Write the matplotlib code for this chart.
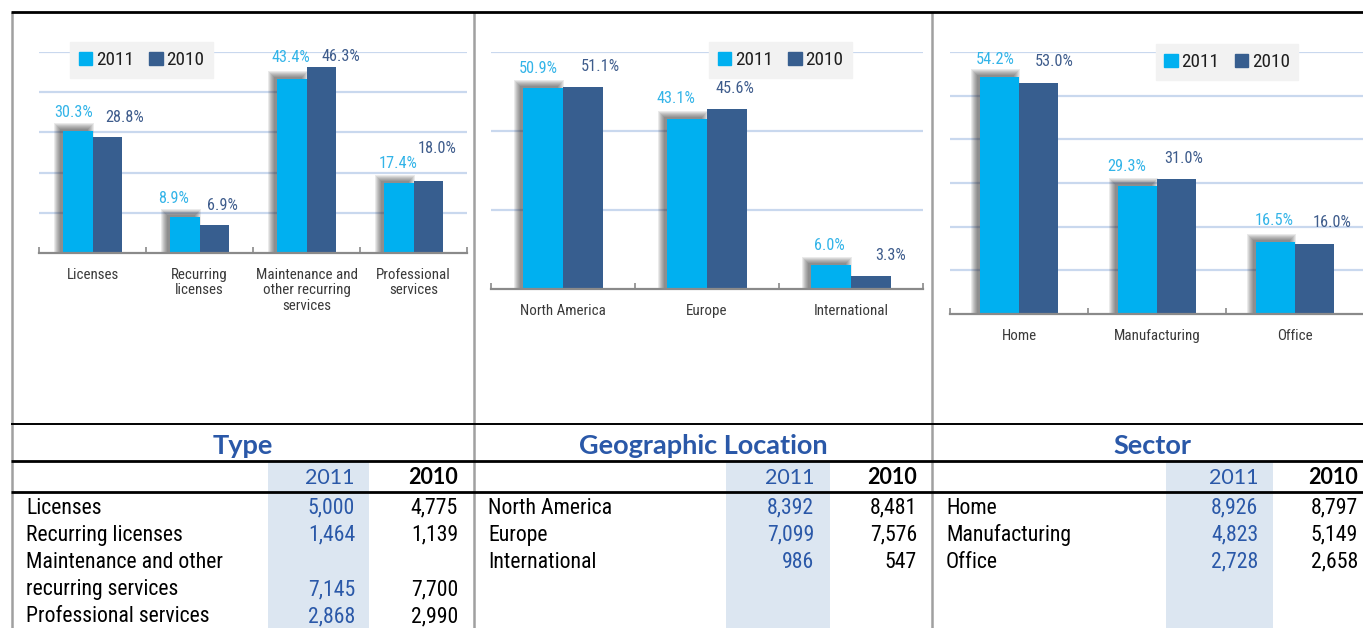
import matplotlib
matplotlib.use("Agg")
import matplotlib.pyplot as plt
from matplotlib import font_manager
from matplotlib.patches import Rectangle, Patch

# ---------------- data ----------------
years = ["2011", "2010"]

type_title = "Type"
type_cats = ["Licenses", "Recurring\nlicenses", "Maintenance and\nother recurring\nservices", "Professional\nservices"]
type_pct_2011 = [30.3, 8.9, 43.4, 17.4]
type_pct_2010 = [28.8, 6.9, 46.3, 18.0]
type_rows = ["Licenses", "Recurring licenses", "Maintenance and other\nrecurring services", "Professional services"]
type_val_2011 = [5000, 1464, 7145, 2868]
type_val_2010 = [4775, 1139, 7700, 2990]

geo_title = "Geographic Location"
geo_cats = ["North America", "Europe", "International"]
geo_pct_2011 = [50.9, 43.1, 6.0]
geo_pct_2010 = [51.1, 45.6, 3.3]
geo_rows = ["North America", "Europe", "International"]
geo_val_2011 = [8392, 7099, 986]
geo_val_2010 = [8481, 7576, 547]

sec_title = "Sector"
sec_cats = ["Home", "Manufacturing", "Office"]
sec_pct_2011 = [54.2, 29.3, 16.5]
sec_pct_2010 = [53.0, 31.0, 16.0]
sec_rows = ["Home", "Manufacturing", "Office"]
sec_val_2011 = [8926, 4823, 2728]
sec_val_2010 = [8797, 5149, 2658]

# ---------------- style ----------------
W, H = 1363, 628
C11 = "#00B0F0"
C10 = "#375E8F"
L11 = "#33B4E8"
L10 = "#3E5C8C"
GRID = "#C9D8EE"
TBLUE = "#2A58A8"
SHADE = "#DCE6F1"

names = {f.name for f in font_manager.fontManager.ttflist}
if "Liberation Sans Narrow" in names:
    NARROW, NS = "Liberation Sans Narrow", 1.0
elif "Roboto Condensed" in names:
    NARROW, NS = "Roboto Condensed", 0.95
else:
    NARROW, NS = "Liberation Sans", 0.85
BOLDF = "Lato" if "Lato" in names else "DejaVu Sans"

fig = plt.figure(figsize=(W / 100, H / 100), dpi=100)
fig.patch.set_facecolor("white")

over = fig.add_axes([0, 0, 1, 1], zorder=0)
over.set_xlim(0, W)
over.set_ylim(H, 0)
over.axis("off")


def add_ax(left, right, top, bottom):
    return fig.add_axes([left / W, 1 - bottom / H, (right - left) / W, (bottom - top) / H], zorder=2)


def chart(ax, cats, p11, p10, ymax, step, offs11, offs10, legbox):
    n = len(cats)
    bw = 0.28
    x = list(range(n))
    ax.set_xlim(-0.5, n - 0.5)
    ax.set_ylim(0, ymax)
    ax.patch.set_alpha(0)
    for s in ["left", "right", "top"]:
        ax.spines[s].set_visible(False)
    ax.spines["bottom"].set_color("#8A8A8A")
    ax.spines["bottom"].set_linewidth(1.6)
    ax.spines["bottom"].set_zorder(4)
    ax.set_yticks([])
    ax.set_xticks([i - 0.5 for i in range(n + 1)])
    ax.tick_params(axis="x", direction="in", length=4, width=1.2, color="#8A8A8A", labelbottom=False)
    for g in range(step, ymax + 1, step):
        ax.axhline(g, color=GRID, lw=1.6, zorder=0.5)
    # px -> data scale
    bb = ax.get_position()
    pxw = bb.width * W
    pxh = bb.height * H
    dxp = n / pxw
    dyp = ymax / pxh
    xs11 = [i - bw / 2 for i in x]
    xs10 = [i + bw / 2 for i in x]
    # soft shadow for 2011 bars (shifted up-left, blurred)
    for i, v in enumerate(p11):
        for k in range(0, 7):
            e = k * 1.0 - 1
            x0 = xs11[i] - bw / 2 - 4 * dxp - e * dxp
            ax.add_patch(Rectangle((x0, 0), bw + 2 * e * dxp,
                                   v + 3 * dyp + e * dyp, color="#1A1A1A", alpha=0.09, lw=0, zorder=1))
    ax.bar(xs11, p11, bw, color=C11, zorder=2)
    ax.bar(xs10, p10, bw, color=C10, zorder=3)
    for i in range(n):
        ax.annotate(f"{p11[i]:.1f}%", (xs11[i], p11[i]), xytext=(offs11[i][0] * 0.72, offs11[i][1] * 0.72),
                    textcoords="offset points", ha="center", va="center", color=L11,
                    fontsize=12.3 * NS, family=NARROW, zorder=5)
        ax.annotate(f"{p10[i]:.1f}%", (xs10[i], p10[i]), xytext=(offs10[i][0] * 0.72, offs10[i][1] * 0.72),
                    textcoords="offset points", ha="center", va="center", color=L10,
                    fontsize=12.3 * NS, family=NARROW, zorder=5)
        ax.annotate(cats[i], (i, 0), xytext=(0, -15 * 0.72), textcoords="offset points",
                    ha="center", va="top", color="#3A3A3A", fontsize=11.4 * NS, family=NARROW,
                    linespacing=1.12, annotation_clip=False)
    # legend
    lx0, ly0, lx1, ly1 = legbox
    leg = ax.legend([Patch(color=C11), Patch(color=C10)], years, ncol=2,
                    loc="center", bbox_to_anchor=((lx0 + lx1) / 2 / W, 1 - (ly0 + ly1) / 2 / H),
                    bbox_transform=fig.transFigure, frameon=True, fancybox=False,
                    handlelength=0.7, handleheight=0.7, handletextpad=0.2, columnspacing=0.8,
                    borderpad=0.45, borderaxespad=0, prop={"family": NARROW, "size": 14.5 * NS})
    leg.get_frame().set_facecolor("#F2F2F2")
    leg.get_frame().set_edgecolor("#F2F2F2")
    leg.get_frame().set_alpha(1)
    for t in leg.get_texts():
        t.set_color("#1E1E1E")
    leg.set_zorder(6)


ax1 = add_ax(39, 467, 52, 253)
chart(ax1, type_cats, type_pct_2011, type_pct_2010, 50, 10,
      [(-4, 19), (-11, 19), (-1, 21), (0, 20)], [(17, 20), (8, 20), (19, 10), (9, 32)],
      (73, 43, 210, 77))
ax2 = add_ax(491, 923, 52, 289)
chart(ax2, geo_cats, geo_pct_2011, geo_pct_2010, 60, 20,
      [(-5, 19), (-11, 20), (-1, 20)], [(17, 21), (8, 20), (19, 20)],
      (710, 43, 851, 77))
ax3 = add_ax(950, 1364, 52, 314)
chart(ax3, sec_cats, sec_pct_2011, sec_pct_2010, 60, 10,
      [(-4, 18), (-11, 20), (-1, 21)], [(16, 21), (7, 20), (18, 22)],
      (1159, 43, 1295, 81))

# ---------------- frame lines ----------------
for xv in [12, 474, 932]:
    over.plot([xv, xv], [12, H], color="#A0A0A0", lw=1.8, solid_capstyle="butt")
over.plot([11, W], [12, 12], color="black", lw=2.0, solid_capstyle="butt")
over.plot([11, W], [424, 424], color="black", lw=1.4, solid_capstyle="butt")
over.plot([11, W], [461, 461], color="black", lw=2.0, solid_capstyle="butt")
over.plot([11, W], [492, 492], color="black", lw=2.0, solid_capstyle="butt")


# ---------------- tables ----------------
def table(title, tx, rows, v11, v10, lx, shade, r11, r10):
    over.add_patch(Rectangle((shade[0], 462), shade[1] - shade[0], H - 462, color=SHADE, lw=0, zorder=0))
    over.text(tx, 446, title, ha="center", va="center", color=TBLUE, fontsize=19.5,
              family=BOLDF, fontweight="bold")
    over.text(r11, 478, years[0], ha="right", va="center", color=TBLUE, fontsize=15.5, family="Lato")
    over.text(r10, 478, years[1], ha="right", va="center", color="black", fontsize=15.5,
              family="Lato", fontweight="bold")
    y = 508
    step = 27.2
    for lab, a, b in zip(rows, v11, v10):
        lines = lab.split("\n")
        for j, ln in enumerate(lines):
            over.text(lx, y + j * step, ln, ha="left", va="center", color="black",
                      fontsize=16.5 * NS, family=NARROW)
        yl = y + (len(lines) - 1) * step
        over.text(r11, yl, f"{a:,}", ha="right", va="center", color=TBLUE, fontsize=16.5 * NS, family=NARROW)
        over.text(r10, yl, f"{b:,}", ha="right", va="center", color="black", fontsize=16.5 * NS, family=NARROW)
        y = yl + step


table(type_title, 243, type_rows, type_val_2011, type_val_2010, 26, (268, 369), 355, 458)
table(geo_title, 703, geo_rows, geo_val_2011, geo_val_2010, 488, (726, 830), 814, 917)
table(sec_title, 1152, sec_rows, sec_val_2011, sec_val_2010, 946, (1166, 1273), 1258, 1358)

fig.savefig("out.png", dpi=100)
